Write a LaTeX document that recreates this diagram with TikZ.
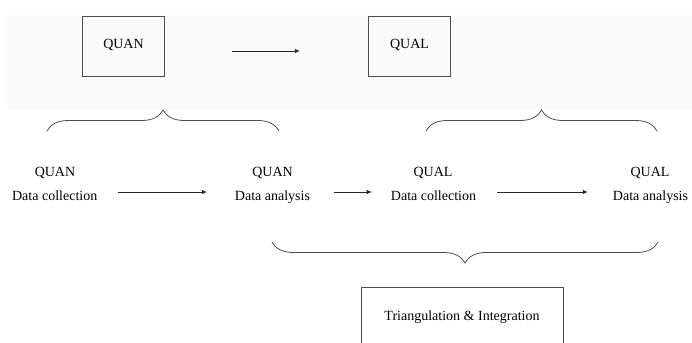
\documentclass[tikz,border=0pt]{standalone}
\usepackage{fontspec}
\setmainfont{Liberation Serif}
\usetikzlibrary{decorations.pathreplacing,arrows.meta}
\begin{document}
\begin{tikzpicture}[x=1pt,y=-1pt,
  txt/.style={inner sep=0pt, font=\fontsize{14}{16}\selectfont, text height=10pt, text depth=0pt},
  boxnode/.style={draw=black!70, line width=0.8pt, inner sep=0pt, font=\fontsize{14}{16}\selectfont, text height=10pt, text depth=5pt},
  arr/.style={draw=black!85, line width=0.8pt, -{Latex[length=5pt,width=4.5pt]}},
  brc/.style={draw=black!70, line width=0.8pt, decorate, decoration={brace, amplitude=21pt}}]
\clip (0,0) rectangle (692,342);
\fill[gray!4] (7,15) rectangle (692,110);
% top boxes
\node[boxnode, minimum width=82.5pt, minimum height=60pt] (quan) at (123.5,46) {QUAN};
\node[boxnode, minimum width=82.5pt, minimum height=60pt] (qual) at (409.5,46) {QUAL};
\draw[arr, shorten <=67pt, shorten >=68pt] ([yshift=-5pt]quan.east) -- ([yshift=-5pt]qual.west);
% braces
\coordinate (b1a) at (47,131);
\coordinate (b1b) at (279,131);
\coordinate (b2a) at (426,131);
\coordinate (b2b) at (657,131);
\coordinate (b3a) at (658,242);
\coordinate (b3b) at (272,242);
\draw[brc] (b1a) -- (b1b);
\draw[brc] (b2a) -- (b2b);
\draw[brc] (b3a) -- (b3b);
% stage labels
\node[txt] (q1) at (55,171) {QUAN};
\node[txt] (dc1) at (54.7,195) {Data collection};
\node[txt] (q2) at (272.5,171) {QUAN};
\node[txt] (da1) at (272.5,195) {Data analysis};
\node[txt] (q3) at (433,171) {QUAL};
\node[txt] (dc2) at (433.5,195) {Data collection};
\node[txt] (q4) at (650,171) {QUAL};
\node[txt] (da2) at (650.5,195) {Data analysis};
% arrows
\draw[arr, shorten <=21pt, shorten >=28pt] ([yshift=3pt]dc1.east) -- ([yshift=3pt]da1.west);
\draw[arr, shorten <=24pt, shorten >=19pt] ([yshift=3pt]da1.east) -- ([yshift=3pt]dc2.west);
\draw[arr, shorten <=21pt, shorten >=25pt] ([yshift=3pt]dc2.east) -- ([yshift=3pt]da2.west);
% bottom box
\node[txt, draw=black!70, line width=0.8pt, minimum width=202pt, minimum height=56pt] (tri) at (462,315) {Triangulation \& Integration};
\end{tikzpicture}
\end{document}
